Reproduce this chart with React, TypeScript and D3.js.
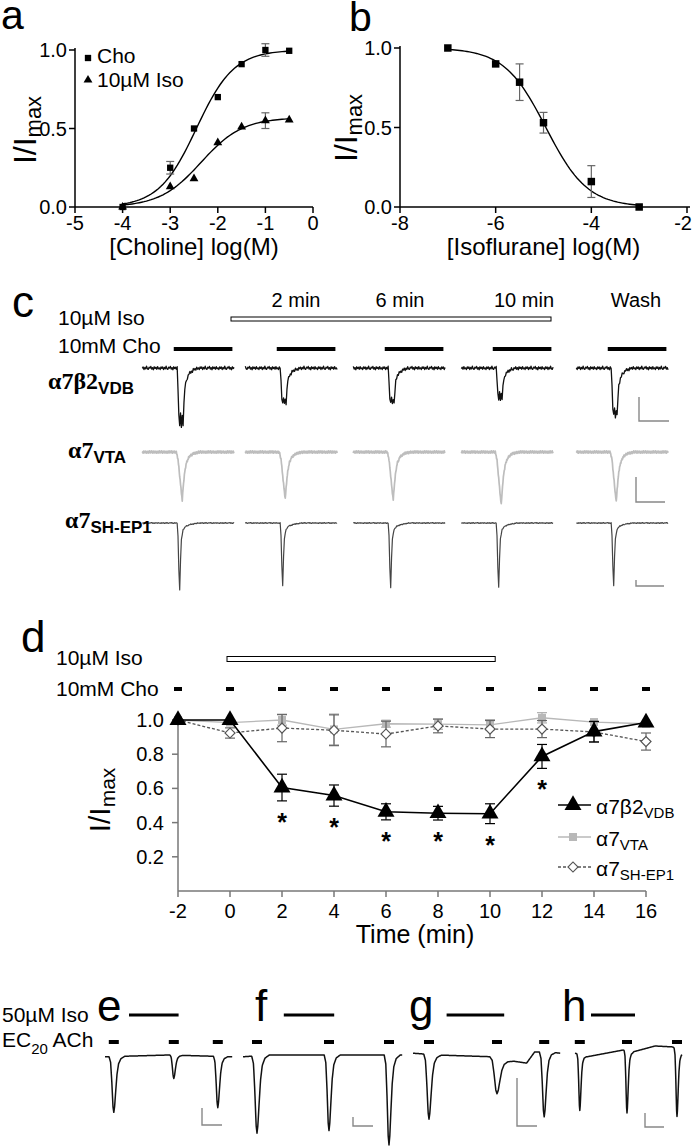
import React from 'react';
import * as d3 from 'd3';

const SANS = "'Liberation Sans', Arial, Helvetica, sans-serif";
const SERIF = "'Liberation Serif', 'Times New Roman', serif";

// ---- a: choline concentration-response (log M) ----
const choLog = [-4, -3, -2.5, -2, -1.5, -1, -0.5];
const choMean = [0.0, 0.25, 0.5, 0.7, 0.91, 1.0, 0.995];
const choSem = [0.01, 0.04, 0.015, 0.01, 0.01, 0.04, 0.01];
const choIsoMean = [0.0, 0.13, 0.18, 0.41, 0.51, 0.55, 0.555];
const choIsoSem = [0.005, 0.01, 0.01, 0.01, 0.01, 0.05, 0.01];
const choFit = [1.0, -2.45, 1.1]; // top, logEC50, Hill
const choIsoFit = [0.57, -2.35, 1.0];

// ---- b: isoflurane inhibition ----
const isoLog = [-7, -6, -5.5, -5, -4, -3];
const isoMean = [1.0, 0.9, 0.785, 0.53, 0.16, 0.0];
const isoSem = [0.005, 0.015, 0.115, 0.065, 0.1, 0.005];
const isoFit = [-4.95, 1.0]; // logIC50, Hill

// ---- c: example traces ----
const cColLabels = ['', '2 min', '6 min', '10 min', 'Wash'];
const cVdbPeak = [1.0, 0.63, 0.63, 0.54, 0.85];
const cVtaPeak = [1.0, 0.98, 1.0, 1.1, 1.04];
const cShPeak = [1.0, 0.93, 0.96, 0.96, 0.93];
const cSweep = [-42, 66]; // s around response onset
const cChoOn = [-5, 64];
const vdbShape = [[-1, 0], [0, 0.35], [1, 0.8], [2, 0.95], [3, 0.78], [4, 1.0], [5, 0.82], [6, 0.95], [7, 0.6], [8, 0.35], [10, 0.2], [13, 0.1], [18, 0.03], [24, 0]];
const vtaShape = [[-2, 0], [0, 0.15], [2, 0.5], [4, 0.85], [5, 1], [6, 0.75], [8, 0.4], [10, 0.22], [13, 0.1], [18, 0.03], [26, 0]];
const shShape = [[-1, 0], [0, 0.2], [1, 0.7], [2, 1], [3, 0.55], [4, 0.25], [6, 0.1], [9, 0.05], [15, 0.02], [24, 0]];
const noiseSeq = [0.2, -0.6, 0.9, -0.3, 0.5, -1, 0.4, 0.8, -0.5, 0.1, -0.9, 0.6, -0.2, 1, -0.7, 0.3, -0.4, 0.7, -0.8, 0.5, -0.1, 0.9, -0.6];

// ---- d: time course ----
const timeMin = [-2, 0, 2, 4, 6, 8, 10, 12, 14, 16];
const vdbMean = [1.0, 1.0, 0.605, 0.558, 0.463, 0.455, 0.452, 0.787, 0.932, 0.985];
const vdbSem = [0.005, 0.01, 0.078, 0.062, 0.047, 0.04, 0.058, 0.07, 0.06, 0.01];
const vtaMean = [1.0, 0.985, 1.0, 0.945, 0.978, 0.976, 0.972, 1.013, 0.988, 0.978];
const vtaSem = [0.005, 0.01, 0.03, 0.09, 0.02, 0.03, 0.03, 0.03, 0.01, 0.01];
const shMean = [1.0, 0.924, 0.953, 0.94, 0.918, 0.965, 0.947, 0.947, 0.93, 0.874];
const shSem = [0.005, 0.03, 0.08, 0.09, 0.075, 0.04, 0.05, 0.05, 0.06, 0.05];
const sigTimes = [2, 4, 6, 8, 10, 12];
const dIsoOn = [0, 10.2];

// ---- e-h: 50 uM Iso on EC20 ACh responses ----
const ehLetters = ['e', 'f', 'g', 'h'];
const ehDuration = [159, 199, 184, 134];
const ehIsoOn = [[30, 92], [51, 114], [42, 114], [20, 75]];
const ehPulseT = [[11, 86, 141], [17.5, 107.5, 182.5], [20, 105, 164], [6, 65, 127.5]];
const ehPulseAmp = [[0.62, 0.26, 0.57], [0.86, 0.84, 1.0], [0.72, 0.4, 0.72], [0.62, 0.69, 0.74]];
const ehPulseW = [[1, 0.8, 0.9], [1.1, 1, 1], [1.1, 1.5, 1], [0.6, 0.6, 0.6]];
const ehDrift = [
  [[0, 0.02], [80, 0], [159, 0.02]],
  [[0, 0.02], [30, 0], [199, 0]],
  [[0, -0.02], [30, 0], [100, 0.02], [115, 0.055], [142, 0.09], [152, -0.033], [170, -0.033], [184, -0.02]],
  [[0, -0.02], [15, 0.02], [60, -0.055], [72, -0.033], [100, -0.1], [122, -0.09], [134, -0.02]],
];
const ehShape = [[-6, 0], [-4, 0.1], [-2.5, 0.45], [-1, 0.9], [0, 1], [1, 0.9], [2.5, 0.6], [4, 0.32], [6, 0.13], [9, 0.04], [14, 0]];

const shapeFn = (pts: number[][]) =>
  d3.scaleLinear().domain(pts.map((p) => p[0])).range(pts.map((p) => p[1])).clamp(true);

function YTitle({ x, y, size, sub }: { x: number; y: number; size: number; sub: number }) {
  return (
    <text transform={`translate(${x},${y}) rotate(-90)`} textAnchor="middle" fontFamily={SANS} fontSize={size}>
      I/I<tspan fontSize={sub} dy={size * 0.17}>max</tspan>
    </text>
  );
}

function ErrBar({ x, y1, y2, w, color }: any) {
  return (
    <g stroke={color} strokeWidth={1.2}>
      <line x1={x} x2={x} y1={y1} y2={y2} />
      <line x1={x - w / 2} x2={x + w / 2} y1={y1} y2={y1} />
      <line x1={x - w / 2} x2={x + w / 2} y1={y2} y2={y2} />
    </g>
  );
}

export default function App() {
  const line = d3.line<number[]>();

  // a
  const ax = d3.scaleLinear().domain([-5, 0]).range([75, 313]);
  const ay = d3.scaleLinear().domain([0, 1]).range([207, 50]);
  const hill = (p: number[]) => (x: number) => p[0] / (1 + Math.pow(10, p[2] * (p[1] - x)));
  const aGrid = d3.range(-4, -0.5 + 1e-6, 0.05);
  const aCurve = (p: number[]) => line(aGrid.map((x) => [ax(x), ay(hill(p)(x))]));

  // b
  const bx = d3.scaleLinear().domain([-8, -2]).range([400, 687]);
  const by = d3.scaleLinear().domain([0, 1]).range([207, 48]);
  const bGrid = d3.range(-7, -3 + 1e-6, 0.05);
  const inhib = (x: number) => 1 / (1 + Math.pow(10, isoFit[1] * (x - isoFit[0])));
  const bCurve = line(bGrid.map((x) => [bx(x), by(inhib(x))]));

  // d
  const dx = d3.scaleLinear().domain([-2, 16]).range([178, 646]);
  const dy = d3.scaleLinear().domain([0, 1]).range([891, 720]);

  const sq = (s: number) => d3.symbol(d3.symbolSquare, s)() as string;
  const tri = (s: number) => d3.symbol(d3.symbolTriangle, s)() as string;

  // c traces
  const cOnsetX = [178, 281, 389, 497, 612];
  const cRowBase = [368, 452, 523];
  const cRowDepth = [59, 48, 67];
  const cPx = 0.85;
  const cRows = [
    { peaks: cVdbPeak, shape: vdbShape, noise: 0.03, step: 1, color: '#111', w: 1.3 },
    { peaks: cVtaPeak, shape: vtaShape, noise: 0.025, step: 0.5, color: '#bdbdbd', w: 1.7 },
    { peaks: cShPeak, shape: shShape, noise: 0.007, step: 1, color: '#444', w: 1.2 },
  ];
  const cX = (c: number) => d3.scaleLinear().domain([0, 1]).range([cOnsetX[c], cOnsetX[c] + cPx]);
  const cTrace = (r: number, c: number) => {
    const row = cRows[r];
    const sh = shapeFn(row.shape);
    const ys = d3.scaleLinear().domain([0, 1]).range([cRowBase[r], cRowBase[r] + cRowDepth[r]]);
    const xs = cX(c);
    const ts = d3.range(cSweep[0], cSweep[1] + 1e-6, row.step);
    return line(
      ts.map((t, k) => [
        xs(t),
        ys(row.peaks[c] * sh(t) + row.noise * noiseSeq[(k + c * 5 + r * 11) % noiseSeq.length]),
      ])
    );
  };

  // e-h traces
  const ehX0 = [105, 243, 413, 575];
  const ehPx = 0.8;
  const ehY = d3.scaleLinear().domain([0, 1]).range([1055, 1145]);
  const ehLetterX = [97, 255, 409, 562];
  const ehX = (i: number) => d3.scaleLinear().domain([0, 1]).range([ehX0[i], ehX0[i] + ehPx]);
  const ehTrace = (i: number) => {
    const sh = shapeFn(ehShape);
    const drift = shapeFn(ehDrift[i]);
    const xs = ehX(i);
    const ts = d3.range(0, ehDuration[i] + 1e-6, 0.5);
    return line(
      ts.map((t) => {
        let v = drift(t);
        ehPulseT[i].forEach((tp, j) => {
          v += ehPulseAmp[i][j] * sh((t - tp) / ehPulseW[i][j]);
        });
        return [xs(t), ehY(v)];
      })
    );
  };

  const dSeries = [
    { mean: vdbMean, sem: vdbSem, color: '#000', err: '#000', dash: undefined, marker: 'tri' },
    { mean: vtaMean, sem: vtaSem, color: '#b8b8b8', err: '#b0b0b0', dash: undefined, marker: 'sq' },
    { mean: shMean, sem: shSem, color: '#555', err: '#666', dash: '3,2', marker: 'dia' },
  ];
  const dMarker = (m: string, color: string) => {
    if (m === 'tri') return <path d={tri(125)} fill="#000" />;
    if (m === 'sq') return <path d={sq(64)} fill={color} />;
    return <path d={sq(50)} transform="rotate(45)" fill="#fff" stroke="#555" strokeWidth={1.2} />;
  };
  // draw order: VTA, SH-EP1, VDB on top
  const order = [1, 2, 0];

  return (
    <svg
      width={693}
      height={1147}
      style={{ position: 'absolute', left: 0, top: 0, background: '#fff' }}
      fontFamily={SANS}
    >
      <rect width={693} height={1147} fill="#fff" />

      {/* ---------- a ---------- */}
      <text x={1} y={29} fontSize={41}>a</text>
      <g stroke="#000" strokeWidth={1.5}>
        <line x1={ax(-5)} x2={ax(0)} y1={ay(0)} y2={ay(0)} />
        <line x1={ax(-5)} x2={ax(-5)} y1={ay(0)} y2={ay(1) - 2} />
        {d3.range(-5, 0.5, 1).map((v) => (
          <line key={v} x1={ax(v)} x2={ax(v)} y1={ay(0)} y2={ay(0) + 6} />
        ))}
        {[0, 0.5, 1].map((v) => (
          <line key={v} x1={ax(-5) - 6} x2={ax(-5)} y1={ay(v)} y2={ay(v)} />
        ))}
      </g>
      {d3.range(-5, 0.5, 1).map((v) => (
        <text key={v} x={ax(v)} y={230} textAnchor="middle" fontSize={20}>{String(v)}</text>
      ))}
      {[0, 0.5, 1].map((v) => (
        <text key={v} x={ax(-5) - 8} y={ay(v) + 7} textAnchor="end" fontSize={20}>{v.toFixed(1)}</text>
      ))}
      <YTitle x={36} y={130} size={32} sub={22} />
      <text x={ax(-2.5)} y={255} textAnchor="middle" fontSize={24}>[Choline] log(M)</text>
      <path d={aCurve(choFit) as string} fill="none" stroke="#000" strokeWidth={1.4} />
      <path d={aCurve(choIsoFit) as string} fill="none" stroke="#000" strokeWidth={1.4} />
      {choLog.map((x, i) => (
        <g key={'ce' + i}>
          {choSem[i] > 0.02 && <ErrBar x={ax(x)} y1={ay(choMean[i] - choSem[i])} y2={ay(choMean[i] + choSem[i])} w={8} color="#666" />}
          {choIsoSem[i] > 0.02 && <ErrBar x={ax(x)} y1={ay(choIsoMean[i] - choIsoSem[i])} y2={ay(choIsoMean[i] + choIsoSem[i])} w={8} color="#666" />}
          <path d={sq(40)} transform={`translate(${ax(x)},${ay(choMean[i])})`} fill="#000" />
          <path d={tri(34)} transform={`translate(${ax(x)},${ay(choIsoMean[i])})`} fill="#000" />
        </g>
      ))}
      <path d={sq(40)} transform="translate(88,58)" fill="#000" />
      <text x={97} y={63} fontSize={21}>Cho</text>
      <path d={tri(34)} transform="translate(88,80)" fill="#000" />
      <text x={97} y={87} fontSize={21}>10µM Iso</text>

      {/* ---------- b ---------- */}
      <text x={349} y={31} fontSize={41}>b</text>
      <g stroke="#000" strokeWidth={1.5}>
        <line x1={bx(-8)} x2={bx(-2) + 3} y1={by(0)} y2={by(0)} />
        <line x1={bx(-8)} x2={bx(-8)} y1={by(0)} y2={by(1) - 2} />
        {[-8, -6, -4, -2].map((v) => (
          <line key={v} x1={bx(v)} x2={bx(v)} y1={by(0)} y2={by(0) + 6} />
        ))}
        {[0, 0.5, 1].map((v) => (
          <line key={v} x1={bx(-8) - 6} x2={bx(-8)} y1={by(v)} y2={by(v)} />
        ))}
      </g>
      {[-8, -6, -4, -2].map((v) => (
        <text
          key={v}
          x={v === -2 ? 692 : bx(v)}
          y={230}
          textAnchor={v === -2 ? 'end' : 'middle'}
          fontSize={20}
        >
          {String(v)}
        </text>
      ))}
      {[0, 0.5, 1].map((v) => (
        <text key={v} x={bx(-8) - 8} y={by(v) + 7} textAnchor="end" fontSize={20}>{v.toFixed(1)}</text>
      ))}
      <YTitle x={357} y={128} size={32} sub={22} />
      <text x={bx(-5)} y={255} textAnchor="middle" fontSize={24}>[Isoflurane] log(M)</text>
      <path d={bCurve as string} fill="none" stroke="#000" strokeWidth={1.4} />
      {isoLog.map((x, i) => (
        <g key={'b' + i}>
          {isoSem[i] > 0.02 && <ErrBar x={bx(x)} y1={by(isoMean[i] - isoSem[i])} y2={by(isoMean[i] + isoSem[i])} w={8} color="#666" />}
          <path d={sq(56)} transform={`translate(${bx(x)},${by(isoMean[i])})`} fill="#000" />
        </g>
      ))}

      {/* ---------- c ---------- */}
      <text x={12} y={317} fontSize={44}>c</text>
      <text x={58} y={325} fontSize={21}>10µM Iso</text>
      <text x={58} y={353} fontSize={21}>10mM Cho</text>
      <rect x={231} y={317} width={320} height={4} fill="#fff" stroke="#000" strokeWidth={1} />
      {cColLabels.map((lab, c) => (
        <g key={'cc' + c}>
          {lab && (
            <text x={[0, 296, 400, 524, 636][c]} y={307} textAnchor="middle" fontSize={20}>{lab}</text>
          )}
          <line x1={cX(c)(cChoOn[0])} x2={cX(c)(cChoOn[1])} y1={349} y2={349} stroke="#000" strokeWidth={4} />
          {cRows.map((row, r) => (
            <path key={r} d={cTrace(r, c) as string} fill="none" stroke={row.color} strokeWidth={row.w} strokeLinejoin="round" />
          ))}
        </g>
      ))}
      <text x={48} y={389} fontSize={24} fontWeight="bold" fontFamily={SERIF}>
        α7β2<tspan fontFamily={SANS} fontSize={17} dy={5}>VDB</tspan>
      </text>
      <text x={68} y={458} fontSize={24} fontWeight="bold" fontFamily={SERIF}>
        α7<tspan fontFamily={SANS} fontSize={17} dy={5}>VTA</tspan>
      </text>
      <text x={65} y={528} fontSize={24} fontWeight="bold" fontFamily={SERIF}>
        α7<tspan fontFamily={SANS} fontSize={17} dy={5}>SH-EP1</tspan>
      </text>
      <g fill="none" stroke="#888" strokeWidth={1.4}>
        <path d="M639,397V421H669" />
        <path d="M636,477V502H665" />
        <path d="M636,580V586H664" />
      </g>

      {/* ---------- d ---------- */}
      <text x={21} y={652} fontSize={44}>d</text>
      <text x={56} y={665} fontSize={21}>10µM Iso</text>
      <rect x={dx(dIsoOn[0]) - 3} y={656.5} width={dx(dIsoOn[1]) - dx(dIsoOn[0]) + 3} height={5} fill="#fff" stroke="#000" strokeWidth={1} />
      <text x={56} y={696} fontSize={21}>10mM Cho</text>
      {timeMin.map((t) => (
        <rect key={'cd' + t} x={dx(t) - 4} y={687} width={8} height={4} fill="#000" />
      ))}
      <g stroke="#777" strokeWidth={1.5}>
        <line x1={dx(-2)} x2={dx(16)} y1={dy(0)} y2={dy(0)} />
        <line x1={dx(-2)} x2={dx(-2)} y1={dy(0)} y2={dy(1.03)} />
        {timeMin.map((t) => (
          <line key={t} x1={dx(t)} x2={dx(t)} y1={dy(0)} y2={dy(0) + 6} />
        ))}
        {[0.2, 0.4, 0.6, 0.8, 1.0].map((v) => (
          <line key={v} x1={dx(-2) - 6} x2={dx(-2)} y1={dy(v)} y2={dy(v)} />
        ))}
      </g>
      {timeMin.map((t) => (
        <text key={'tl' + t} x={dx(t)} y={918} textAnchor="middle" fontSize={20}>{String(t)}</text>
      ))}
      {[0.2, 0.4, 0.6, 0.8, 1.0].map((v) => (
        <text key={'yl' + v} x={dx(-2) - 14} y={dy(v) + 7} textAnchor="end" fontSize={20}>{v.toFixed(1)}</text>
      ))}
      <YTitle x={110} y={800} size={30} sub={21} />
      <text x={415} y={943} textAnchor="middle" fontSize={25}>Time (min)</text>
      {order.map((si) => {
        const s = dSeries[si];
        return (
          <g key={'s' + si}>
            <path
              d={line(timeMin.map((t, i) => [dx(t), dy(s.mean[i])])) as string}
              fill="none"
              stroke={s.color}
              strokeWidth={si === 0 ? 1.6 : 1.3}
              strokeDasharray={s.dash}
            />
            {timeMin.map((t, i) =>
              s.sem[i] > 0.015 ? (
                <ErrBar key={'e' + i} x={dx(t)} y1={dy(s.mean[i] - s.sem[i])} y2={dy(s.mean[i] + s.sem[i])} w={10} color={s.err} />
              ) : null
            )}
            {timeMin.map((t, i) => (
              <g key={'m' + i} transform={`translate(${dx(t)},${dy(s.mean[i])})`}>
                {dMarker(s.marker, s.color)}
              </g>
            ))}
          </g>
        );
      })}
      {sigTimes.map((t) => {
        const i = timeMin.indexOf(t);
        return (
          <text
            key={'sig' + t}
            x={dx(t)}
            y={dy(vdbMean[i] - vdbSem[i]) + 30}
            textAnchor="middle"
            fontSize={25}
            fontWeight="bold"
          >
            *
          </text>
        );
      })}
      {/* legend */}
      {[
        { y: 805, s: dSeries[0], main: 'α7β2', sub: 'VDB' },
        { y: 837, s: dSeries[1], main: 'α7', sub: 'VTA' },
        { y: 867, s: dSeries[2], main: 'α7', sub: 'SH-EP1' },
      ].map((l, k) => (
        <g key={'lg' + k}>
          <line x1={558} x2={591} y1={l.y} y2={l.y} stroke={l.s.color} strokeWidth={k === 0 ? 1.6 : 1.3} strokeDasharray={l.s.dash} />
          <g transform={`translate(573,${l.y})`}>{dMarker(l.s.marker, l.s.color)}</g>
          <text x={596} y={l.y + 9} fontSize={21}>
            {l.main}<tspan fontSize={15} dy={4}>{l.sub}</tspan>
          </text>
        </g>
      ))}

      {/* ---------- e-h ---------- */}
      <text x={2} y={1022} fontSize={21}>50µM Iso</text>
      <text x={2} y={1047} fontSize={21}>
        EC<tspan fontSize={15} dy={7}>20</tspan><tspan dy={-7}> ACh</tspan>
      </text>
      {ehLetters.map((lt, i) => {
        const xs = ehX(i);
        return (
          <g key={lt}>
            <text x={ehLetterX[i]} y={1021} fontSize={44}>{lt}</text>
            <line x1={xs(ehIsoOn[i][0])} x2={xs(ehIsoOn[i][1])} y1={1015} y2={1015} stroke="#000" strokeWidth={3.2} />
            {ehPulseT[i].map((tp) => (
              <rect key={tp} x={xs(tp) - 5} y={1040} width={10} height={4} fill="#000" />
            ))}
            <path d={ehTrace(i) as string} fill="none" stroke="#111" strokeWidth={1.5} strokeLinejoin="round" />
          </g>
        );
      })}
      <g fill="none" stroke="#888" strokeWidth={1.4}>
        <path d="M202,1108V1125H222" />
        <path d="M353,1117V1126H373" />
        <path d="M517,1078V1126H537" />
        <path d="M645,1113V1127H664" />
      </g>
    </svg>
  );
}
